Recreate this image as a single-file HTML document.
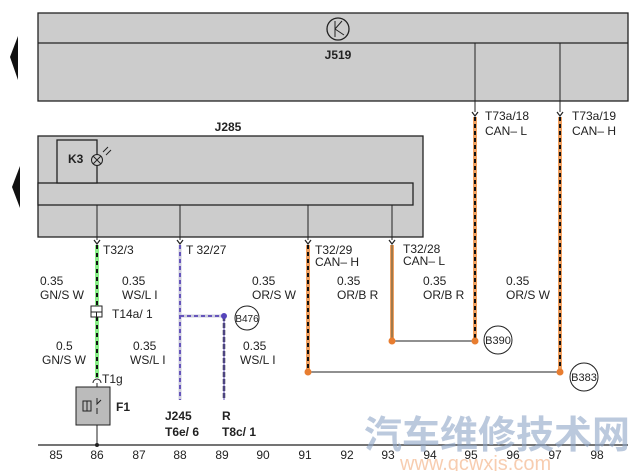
<!DOCTYPE html><html><head><style>body{margin:0;background:#fff}svg{display:block}text{font-family:"Liberation Sans",sans-serif;fill:#222}</style></head><body>
<svg width="640" height="471" viewBox="0 0 640 471" xmlns="http://www.w3.org/2000/svg">
<polygon points="18,36 10,57 18,80" fill="#111"/>
<polygon points="20,166 12,187 20,208" fill="#111"/>
<rect x="38" y="13" width="590" height="88" fill="#ccc" stroke="#222" stroke-width="1.3"/>
<line x1="38" y1="43" x2="628" y2="43" stroke="#222" stroke-width="1.3"/>
<line x1="475" y1="43" x2="475" y2="101" stroke="#222"/>
<line x1="560" y1="43" x2="560" y2="101" stroke="#222"/>
<circle cx="338" cy="29" r="11" fill="none" stroke="#222" stroke-width="1.3"/>
<path d="M335,21V37M335,29L342,21M335,29L344,35" stroke="#222" fill="none"/>
<text x="338" y="59" font-size="12" font-weight="bold" text-anchor="middle">J519</text>
<text x="228" y="131" font-size="12" font-weight="bold" text-anchor="middle">J285</text>
<rect x="38" y="136" width="385" height="101" fill="#ccc" stroke="#222" stroke-width="1.3"/>
<rect x="38" y="183" width="375" height="22" fill="#ccc" stroke="#222" stroke-width="1.3"/>
<rect x="57" y="140" width="40" height="43" fill="#ccc" stroke="#222" stroke-width="1.3"/>
<text x="68" y="163" font-size="12" font-weight="bold">K3</text>
<circle cx="97" cy="160" r="5.5" fill="#ccc" stroke="#222"/><path d="M93,156L101,164M101,156L93,164M103,152L108,147M106,155L111,150" stroke="#222"/>
<g stroke="#222"><line x1="97" y1="205" x2="97" y2="240"/><line x1="180" y1="205" x2="180" y2="240"/><line x1="308" y1="205" x2="308" y2="240"/><line x1="392" y1="205" x2="392" y2="240"/><line x1="475" y1="101" x2="475" y2="112"/><line x1="560" y1="101" x2="560" y2="112"/></g>
<g fill="none" stroke="#222" stroke-width="1.2"><path d="M94,240l3,4l3,-4M177,240l3,4l3,-4M305,240l3,4l3,-4M389,240l3,4l3,-4M472,112l3,4l3,-4M557,112l3,4l3,-4"/></g>
<line x1="97" y1="245" x2="97" y2="378" stroke="#8e8" stroke-width="4"/>
<line x1="97" y1="245" x2="97" y2="378" stroke="#111" stroke-width="2" stroke-dasharray="4,4"/>
<rect x="91" y="306" width="11" height="11" fill="#fff" stroke="#222"/><path d="M91,312h11M96.5,312v5" stroke="#222"/>
<path d="M93,383a4,4 0 0 1 8,0" fill="none" stroke="#222"/>
<line x1="97" y1="383" x2="97" y2="445" stroke="#222"/>
<rect x="76" y="387" width="34" height="38" fill="#bbb" stroke="#222"/>
<path d="M83,401h8v10h-8zM87,401v10M97,398v6l4,-4M97,408v6" stroke="#222" fill="none"/>
<text x="116" y="411" font-size="12" font-weight="bold">F1</text>
<circle cx="97" cy="445" r="2" fill="#222"/>
<g stroke-width="3"><line x1="180" y1="245" x2="180" y2="400" stroke="#ccd"/><line x1="180" y1="316" x2="224" y2="316" stroke="#ccd"/></g>
<g stroke="#6655bb" stroke-width="2" stroke-dasharray="4,3"><line x1="180" y1="245" x2="180" y2="400"/><line x1="180" y1="316" x2="224" y2="316"/></g>
<line x1="224" y1="316" x2="224" y2="400" stroke="#334" stroke-width="2.5" stroke-dasharray="5,2"/>
<line x1="224" y1="316" x2="224" y2="400" stroke="#6655bb" stroke-width="1" />
<circle cx="224" cy="316" r="3" fill="#5544bb"/>
<circle cx="247" cy="318" r="12" fill="#fff" stroke="#222"/><text x="247" y="322" font-size="10" text-anchor="middle">B476</text>
<g stroke="#f0a060" stroke-width="4"><line x1="308" y1="245" x2="308" y2="372"/><line x1="392" y1="245" x2="392" y2="341"/><line x1="475" y1="117" x2="475" y2="341"/><line x1="560" y1="117" x2="560" y2="372"/></g>
<g stroke="#111" stroke-width="2" stroke-dasharray="4,3"><line x1="308" y1="245" x2="308" y2="372"/><line x1="475" y1="117" x2="475" y2="341"/><line x1="560" y1="117" x2="560" y2="372"/></g>
<line x1="392" y1="245" x2="392" y2="341" stroke="#553" stroke-width="1"/>
<g stroke="#222"><line x1="392" y1="341" x2="475" y2="341"/><line x1="308" y1="372" x2="560" y2="372"/></g>
<g fill="#e87d30"><circle cx="392" cy="341" r="3.5"/><circle cx="475" cy="341" r="3.5"/><circle cx="308" cy="372" r="3.5"/><circle cx="560" cy="372" r="3.5"/></g>
<circle cx="498" cy="340" r="14" fill="#fff" stroke="#222"/><text x="498" y="344" font-size="11" text-anchor="middle">B390</text>
<circle cx="584" cy="377" r="14" fill="#fff" stroke="#222"/><text x="584" y="381" font-size="11" text-anchor="middle">B383</text>
<g font-size="12">
<text x="103" y="254">T32/3</text><text x="186" y="254">T 32/27</text>
<text x="315" y="254">T32/29</text><text x="315" y="266">CAN– H</text>
<text x="403" y="253">T32/28</text><text x="403" y="265">CAN– L</text>
<text x="485" y="120">T73a/18</text><text x="485" y="135">CAN– L</text>
<text x="572" y="120">T73a/19</text><text x="572" y="135">CAN– H</text>
<text x="40" y="285">0.35</text><text x="40" y="299">GN/S W</text>
<text x="122" y="285">0.35</text><text x="122" y="299">WS/L I</text>
<text x="252" y="285">0.35</text><text x="252" y="299">OR/S W</text>
<text x="337" y="285">0.35</text><text x="337" y="299">OR/B R</text>
<text x="423" y="285">0.35</text><text x="423" y="299">OR/B R</text>
<text x="506" y="285">0.35</text><text x="506" y="299">OR/S W</text>
<text x="112" y="318">T14a/ 1</text>
<text x="56" y="350">0.5</text><text x="42" y="364">GN/S W</text>
<text x="133" y="350">0.35</text><text x="130" y="364">WS/L I</text>
<text x="243" y="350">0.35</text><text x="240" y="364">WS/L I</text>
<text x="102" y="383">T1g</text>
</g>
<g font-size="12" font-weight="bold"><text x="165" y="420">J245</text><text x="165" y="436">T6e/ 6</text><text x="222" y="420">R</text><text x="222" y="436">T8c/ 1</text></g>
<line x1="38" y1="445" x2="628" y2="445" stroke="#222" stroke-width="1.3"/>
<g font-size="12" text-anchor="middle">
<text x="56" y="459">85</text><text x="97" y="459">86</text><text x="139" y="459">87</text><text x="180" y="459">88</text><text x="222" y="459">89</text><text x="263" y="459">90</text><text x="305" y="459">91</text><text x="347" y="459">92</text><text x="388" y="459">93</text><text x="430" y="459">94</text><text x="471" y="459">95</text><text x="513" y="459">96</text><text x="555" y="459">97</text><text x="597" y="459">98</text>
</g>
<text x="364" y="448" font-size="38" font-weight="bold" style="fill:#8fa6c8;opacity:0.6;font-family:'Liberation Sans','Noto Sans CJK SC',sans-serif">汽车维修技术网</text>
<text x="400" y="470" font-size="20" style="fill:#f5b890;opacity:0.7">www.qcwxjs.com</text>
</svg></body></html>
